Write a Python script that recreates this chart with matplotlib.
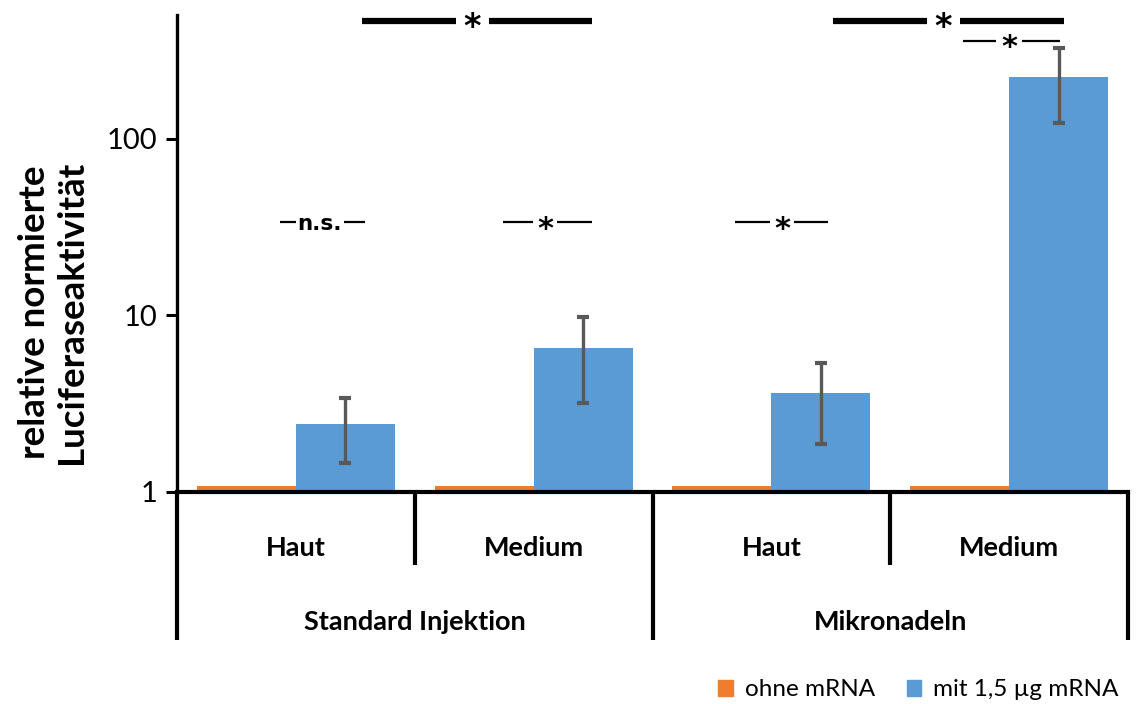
import matplotlib
matplotlib.use("Agg")
import matplotlib.pyplot as plt
import matplotlib.transforms as mtransforms
from matplotlib.patches import Patch
import numpy as np

plt.rcParams['font.family'] = ['Lato', 'DejaVu Sans']

# data
categories = ["Haut", "Medium", "Haut", "Medium"]
groups = ["Standard Injektion", "Mikronadeln"]
ohne_mrna = [1.08, 1.08, 1.08, 1.08]
mit_mrna = [2.43, 6.5, 3.61, 224]
mit_err = [0.97, 3.3, 1.73, 102]
series_labels = ["ohne mRNA", "mit 1,5 µg mRNA"]

orange = "#ED7D31"
blue = "#5B9BD5"
err_col = "#595959"

fig = plt.figure(figsize=(11.36, 7.04), dpi=100)
ax = fig.add_axes([177 / 1136, 1 - 492 / 704, (1128 - 177) / 1136, (492 - 15) / 704])

x = np.arange(len(categories))
w = 1 / 2.4
ax.bar(x - w / 2, ohne_mrna, w, color=orange, bottom=0.0001)
ax.bar(x + w / 2, mit_mrna, w, color=blue, bottom=0.0001,
       yerr=mit_err, ecolor=err_col,
       error_kw=dict(elinewidth=2.4, capsize=4.5, capthick=3))

ax.set_yscale("log")
ax.set_ylim(1, 500)
ax.set_xlim(-0.5, len(categories) - 0.5)
ax.set_yticks([1, 10, 100])
ax.set_yticklabels(["1", "10", "100"])
ax.yaxis.set_minor_locator(matplotlib.ticker.NullLocator())
ax.tick_params(axis="y", length=8, width=2.2, labelsize=21, pad=6)
ax.tick_params(axis="x", bottom=False, labelbottom=False)
for s in ["top", "right"]:
    ax.spines[s].set_visible(False)
ax.spines["left"].set_linewidth(2.4)
ax.spines["bottom"].set_linewidth(3)

ax.set_ylabel("relative normierte\nLuciferaseaktivität", fontsize=26.5,
              fontweight="bold", linespacing=1.15)
ax.yaxis.set_label_coords(-0.094, 0.377)

# category axis below
tr = mtransforms.blended_transform_factory(ax.transData, ax.transAxes)
for i, c in enumerate(categories):
    ax.text(i, -0.117, c, transform=tr, ha="center", va="center",
            fontsize=19.5, fontweight="bold")
for b in np.arange(-0.5, len(categories), 1.0):
    low = -0.31 if b in (-0.5, 1.5, 3.5) else -0.153
    ax.plot([b, b], [0, low], transform=tr, color="black", lw=3,
            clip_on=False, solid_capstyle="butt")
for g, name in enumerate(groups):
    ax.text(2 * g + 0.5, -0.273, name, transform=tr, ha="center",
            va="center", fontsize=19.5, fontweight="bold")


def sig(x0, x1, xc, y, label, lw, gap, fs, dy=-5):
    ax.plot([x0, xc - gap], [y, y], color="black", lw=lw,
            solid_capstyle="butt", clip_on=False)
    ax.plot([xc + gap, x1], [y, y], color="black", lw=lw,
            solid_capstyle="butt", clip_on=False)
    ax.annotate(label, (xc, y), xytext=(0, dy), textcoords="offset points",
                ha="center", va="center", fontsize=fs, fontweight="bold",
                family="DejaVu Sans")


sig(0.278, 1.245, 0.742, 464, "*", 4.5, 0.07, 24)
sig(2.259, 3.231, 2.724, 464, "*", 4.5, 0.07, 24)
sig(2.806, 3.214, 3.0, 358, "*", 1.6, 0.055, 22)
sig(-0.067, 0.291, 0.101, 33.5, "n.s.", 1.6, 0.1, 15.5, dy=-1)
sig(0.871, 1.245, 1.048, 33.5, "*", 1.6, 0.052, 22)
sig(1.847, 2.238, 2.045, 33.5, "*", 1.6, 0.052, 22)

handles = [Patch(color=orange), Patch(color=blue)]
fig.legend(handles, series_labels, loc="center right",
           bbox_to_anchor=(1131 / 1136, 1 - 690 / 704), ncol=2,
           frameon=False, fontsize=17.5, handlelength=0.6, handleheight=0.6,
           handletextpad=0.5, columnspacing=1.3, borderpad=0)

fig.savefig("out.png", dpi=100)
